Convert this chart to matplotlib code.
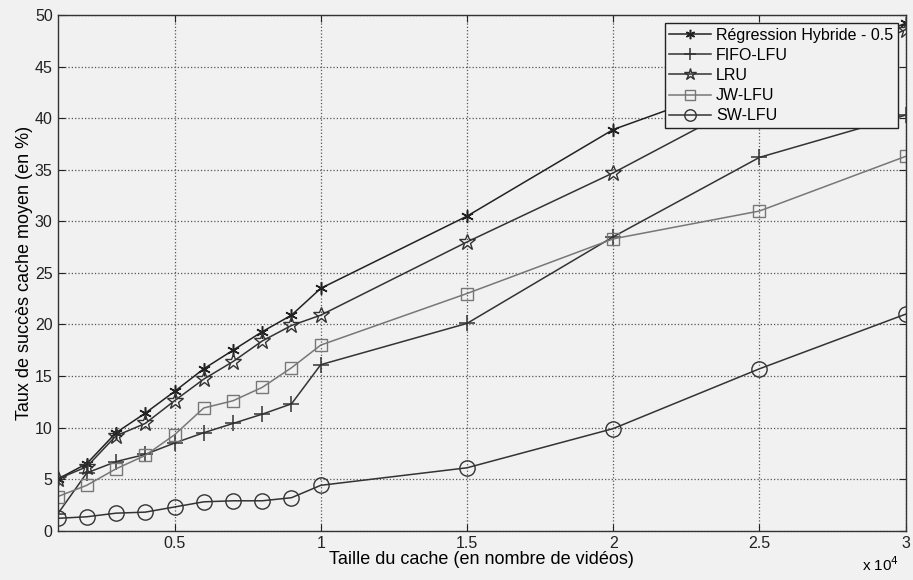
"""
Taux de succès cache moyen en fonction de la taille du cache
"""
import matplotlib
matplotlib.use('Agg')
import matplotlib.pyplot as plt
import numpy as np

plt.rcParams['font.family'] = ['Liberation Sans', 'DejaVu Sans']

# taille du cache (nombre de vidéos)
taille_cache = [1000, 2000, 3000, 4000, 5000, 6000, 7000, 8000, 9000, 10000,
                15000, 20000, 25000, 30000]

# taux de succès (%)
regression_hybride = [5.0, 6.5, 9.5, 11.4, 13.5, 15.7, 17.5, 19.3, 20.9, 23.5,
                      30.5, 38.9, 44.0, 49.2]
fifo_lfu = [1.6, 5.6, 6.7, 7.4, 8.5, 9.5, 10.4, 11.3, 12.3, 16.1,
            20.1, 28.5, 36.2, 40.3]
lru = [5.0, 6.2, 9.2, 10.4, 12.6, 14.7, 16.4, 18.4, 19.9, 20.9,
       28.0, 34.7, 42.2, 48.6]
jw_lfu = [3.3, 4.4, 6.0, 7.3, 9.3, 11.9, 12.6, 13.9, 15.8, 18.0,
          23.0, 28.3, 31.0, 36.3]
sw_lfu = [1.2, 1.35, 1.7, 1.8, 2.3, 2.8, 2.9, 2.9, 3.2, 4.4,
          6.1, 9.9, 15.7, 21.0]

x_ticks = [5000, 10000, 15000, 20000, 25000, 30000]
x_tick_labels = ['0.5', '1', '1.5', '2', '2.5', '3']
y_ticks = list(range(0, 55, 5))

bg = '#f1f1f1'
fig = plt.figure(figsize=(9.13, 5.8), dpi=100, facecolor=bg)
ax = fig.add_axes([0.063, 0.085, 0.929, 0.889], facecolor=bg)

asterisk = (6, 2, 0)
common = dict(linewidth=1.1, markersize=9, markerfacecolor='none')
ax.plot(taille_cache, regression_hybride, color='#222222', marker=asterisk,
        markeredgewidth=1.1, label='Régression Hybride - 0.5', **common)
ax.plot(taille_cache, fifo_lfu, color='#333333', marker='+',
        markeredgewidth=1.1, label='FIFO-LFU', **{**common, 'markersize': 12})
ax.plot(taille_cache, lru, color='#333333', marker='*',
        markeredgewidth=1.0, label='LRU', **{**common, 'markersize': 12})
ax.plot(taille_cache, jw_lfu, color='#777777', marker='s',
        markeredgewidth=1.0, label='JW-LFU', **common)
ax.plot(taille_cache, sw_lfu, color='#333333', marker='o',
        markeredgewidth=1.0, label='SW-LFU', **{**common, 'markersize': 11})

ax.set_xlim(1000, 30000)
ax.set_ylim(0, 50)
ax.set_xticks(x_ticks)
ax.set_xticklabels(x_tick_labels)
ax.set_yticks(y_ticks)
ax.tick_params(direction='in', length=5, labelsize=11.5, top=True, right=True,
               colors='#222222')
ax.grid(True, linestyle=':', color='#555555', linewidth=0.9)
for s in ax.spines.values():
    s.set_color('#333333')
    s.set_linewidth(1.0)

ax.set_xlabel('Taille du cache (en nombre de vidéos)', fontsize=13, labelpad=0)
ax.set_ylabel('Taux de succès cache moyen (en %)', fontsize=13, labelpad=1)
fig.text(0.985, 0.01, r'x 10$^4$', ha='right', va='bottom', fontsize=11)

leg = ax.legend(loc='upper right', fontsize=11.5, fancybox=False,
                framealpha=1, facecolor=bg, edgecolor='#222222',
                handlelength=2.6, handletextpad=0.3, borderpad=0.3,
                labelspacing=0.32, borderaxespad=0.5, markerscale=0.75)
leg.get_frame().set_linewidth(1.0)

plt.savefig('out.png', dpi=100, facecolor=bg)
